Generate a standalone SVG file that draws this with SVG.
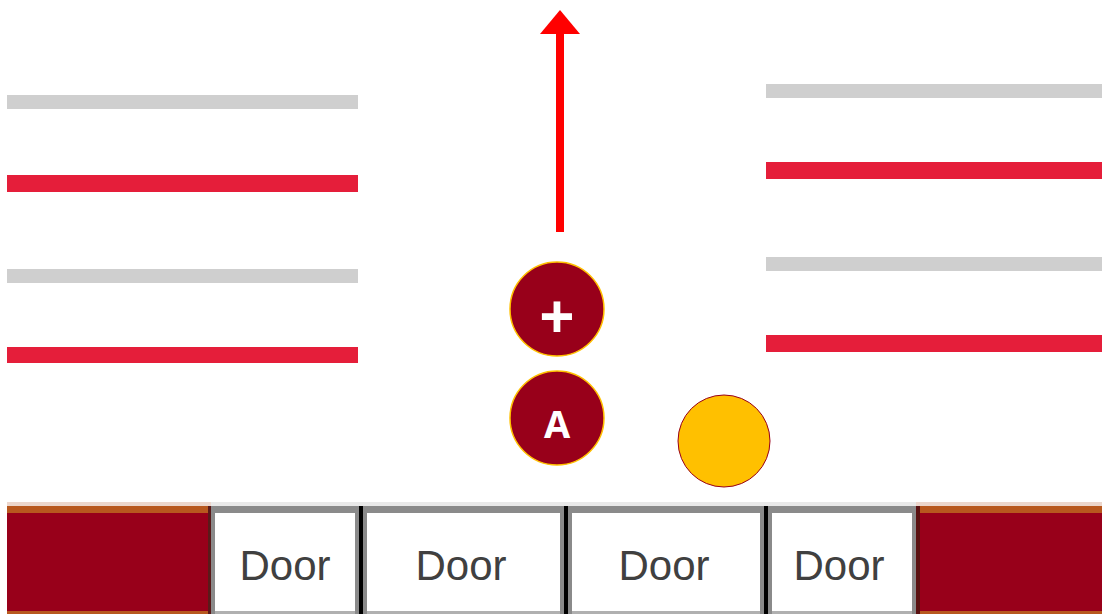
<svg xmlns="http://www.w3.org/2000/svg" width="1102" height="614" viewBox="0 0 1102 614">
<style>
.gray{fill:#cfcfcf}
.red{fill:#e51e3a}
.lane{fill:#98001a}
.door{fill:#ffffff}
.dtext{font-family:"Liberation Sans",Arial,sans-serif;font-size:42px;fill:#404040;text-anchor:middle}
.ctext{font-family:"Open Sans","Liberation Sans",sans-serif;font-weight:bold;fill:#ffffff;text-anchor:middle}
.node{fill:#98001a;stroke:#ffc000;stroke-width:1.5}
</style>
<rect width="1102" height="614" fill="#ffffff"/>
<g id="left-lines">
<rect class="gray" x="7" y="95" width="351" height="14"/>
<rect class="red" x="7" y="175" width="351" height="17"/>
<rect class="gray" x="7" y="269" width="351" height="14"/>
<rect class="red" x="7" y="347" width="351" height="16"/>
</g>
<g id="right-lines">
<rect class="gray" x="766" y="84" width="336" height="14"/>
<rect class="red" x="766" y="162" width="336" height="17"/>
<rect class="gray" x="766" y="257" width="336" height="14"/>
<rect class="red" x="766" y="335" width="336" height="17"/>
</g>
<g id="connectors">
<rect x="556" y="30" width="8" height="202" fill="#ff0000"/>
<polygon points="560,10 540,34 580,34" fill="#ff0000"/>
</g>
<g id="node-plus">
<circle class="node" cx="557" cy="309" r="47"/>
<text class="ctext" x="557" y="339" font-size="62">+</text>
</g>
<g id="node-a">
<circle class="node" cx="557" cy="418" r="47"/>
<text class="ctext" x="557" y="438" font-size="38">A</text>
</g>
<g id="node-yellow">
<circle cx="724" cy="441" r="46" fill="#ffc000" stroke="#98001a" stroke-width="1"/>
</g>
<g id="platform">
<rect x="7" y="502" width="1095" height="4" fill="#e9e9e9"/>
<rect x="7" y="502" width="204" height="4" fill="#ecd6cc"/>
<rect x="916" y="502" width="186" height="4" fill="#ecd6cc"/>
<rect class="lane" x="7" y="506" width="204" height="108"/>
<rect x="7" y="506" width="204" height="7" fill="#b8581e"/>
<rect x="7" y="611" width="204" height="3" fill="#b8581e"/>
<rect class="lane" x="916" y="506" width="186" height="108"/>
<rect x="916" y="506" width="186" height="7" fill="#b8581e"/>
<rect x="916" y="611" width="186" height="3" fill="#b8581e"/>
<rect x="208" y="506" width="3" height="108" fill="#5a1a1a"/>
<rect x="916" y="506" width="4" height="108" fill="#5a1010"/>
<rect x="211" y="506" width="705" height="7" fill="#8a8a8a"/>
<rect x="211" y="611" width="705" height="3" fill="#b0b0b0"/>
</g>
<g id="door-1">
<rect class="door" x="215" y="513" width="140" height="98"/>
<rect x="211" y="506" width="4" height="108" fill="#8a8a8a"/>
<text class="dtext" x="285" y="580">Door</text>
</g>
<g id="door-2">
<rect class="door" x="367" y="513" width="193" height="98"/>
<rect x="355" y="506" width="12" height="108" fill="#8a8a8a"/>
<rect x="359" y="506" width="4" height="108" fill="#000000"/>
<text class="dtext" x="461" y="580">Door</text>
</g>
<g id="door-3">
<rect class="door" x="572" y="513" width="188" height="98"/>
<rect x="560" y="506" width="12" height="108" fill="#8a8a8a"/>
<rect x="564" y="506" width="4" height="108" fill="#000000"/>
<text class="dtext" x="664" y="580">Door</text>
</g>
<g id="door-4">
<rect class="door" x="772" y="513" width="140" height="98"/>
<rect x="760" y="506" width="12" height="108" fill="#8a8a8a"/>
<rect x="764" y="506" width="4" height="108" fill="#000000"/>
<rect x="912" y="506" width="4" height="108" fill="#8a8a8a"/>
<text class="dtext" x="839" y="580">Door</text>
</g>
</svg>
